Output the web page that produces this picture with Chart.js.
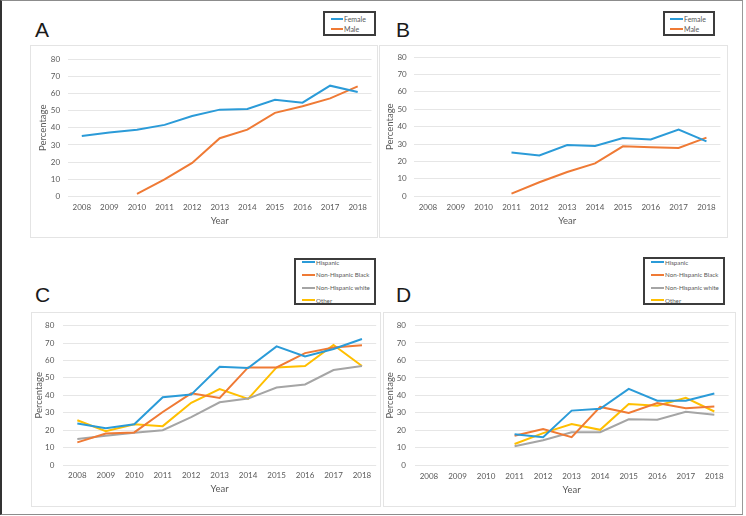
<!DOCTYPE html>
<html>
<head>
<meta charset="utf-8">
<script src="https://cdn.jsdelivr.net/npm/chart.js@4.4.1/dist/chart.umd.min.js"></script>
<style>
body{margin:0;background:#fff;width:746px;height:516px;position:relative;overflow:hidden;font-family:Lato,sans-serif}
.abs{position:absolute}
#frame{left:0;top:0;width:743px;height:515px;box-sizing:border-box;border-top:1px solid #8c8c8c;border-left:2px solid #333;border-right:1px solid #999;border-bottom:1px solid #8c8c8c}
.box{box-sizing:border-box;border:1px solid #e4e4e4}
.letter{font-family:"Liberation Sans",Arial,sans-serif;font-size:21px;line-height:21px;color:#1a1a1a}
.legend{box-sizing:border-box;border:2px solid #3c3c3c;background:#fff}
.item{position:absolute;height:8px;display:flex;align-items:center;color:#595959;white-space:nowrap}
.item i{display:inline-block;height:2px;margin-right:1px}
</style>
</head>
<body>
<div id="frame" class="abs"></div>
<script>
// values (percent)
const years = ['2008','2009','2010','2011','2012','2013','2014','2015','2016','2017','2018'];

const femaleA = [35.2, 37.2, 38.9, 41.7, 46.9, 50.6, 51.0, 56.4, 54.7, 64.6, 60.9];
const maleA   = [null, null, 1.4, 9.9, 19.5, 33.9, 38.9, 48.7, 52.6, 57.2, 64.2];

const femaleB = [null, null, null, 25.2, 23.5, 29.5, 28.9, 33.5, 32.7, 38.4, 31.6];
const maleB   = [null, null, null, 1.5, 8.1, 14.0, 18.9, 28.7, 28.2, 27.8, 33.7];

const hispC  = [23.8, 21.1, 23.4, 38.9, 40.4, 56.4, 55.7, 68.1, 62.3, 66.6, 72.3];
const blackC = [13.0, 18.1, 18.7, 30.4, 41.1, 38.5, 56.0, 56.0, 64.2, 67.4, 68.7];
const whiteC = [14.9, 16.8, 18.5, 20.0, 27.5, 36.0, 38.1, 44.5, 46.2, 54.5, 56.8];
const otherC = [25.7, 19.4, 23.4, 22.3, 35.7, 43.6, 37.9, 56.0, 56.8, 68.9, 56.8];

const hispD  = [null, null, null, 17.7, 16.1, 31.3, 32.3, 43.7, 37.0, 37.0, 41.1];
const blackD = [null, null, null, 16.9, 20.8, 16.1, 33.4, 30.0, 35.6, 32.6, 33.6];
const whiteD = [null, null, null, 10.9, 14.3, 18.9, 18.9, 26.3, 26.1, 30.6, 28.9];
const otherD = [null, null, null, 12.2, 18.4, 23.6, 20.3, 35.1, 34.1, 38.6, 30.8];

const sexNames  = ['Female', 'Male'];
const raceNames = ['Hispanic', 'Non-Hispanic Black', 'Non-Hispanic white', 'Other'];
const yTitle = 'Percentage';
const xTitle = 'Year';

const colors = ['#2b9bd8', '#ef7a35', '#a5a5a5', '#ffbf00'];
const tickColor = '#595959';

const panels = [
  {letter:'A', names:sexNames, data:[femaleA, maleA],
   box:[30,45,348,193], letterPos:[35,19], yw:38, right:6.5, top:14.3, xh:41.7, padY:7.9, tLeft:7.3, tBottom:11.6,
   legend:{x:323,y:11,w:53,h:25, lineX:331, lineW:12, fs:7, items:[19,28.7]}},
  {letter:'B', names:sexNames, data:[femaleB, maleB],
   box:[379,45,349,193], letterPos:[396,19], yw:35, right:7.6, top:10.3, xh:41.7, padY:7.3, tLeft:5.7, tBottom:11.6,
   legend:{x:663,y:11,w:52,h:25, lineX:670, lineW:13, fs:7, items:[19,28.7]}},
  {letter:'C', names:raceNames, data:[hispC, blackC, whiteC, otherC],
   box:[31,312,350,195], letterPos:[35,284], yw:32.1, right:4.8, top:11, xh:42, padY:8.8, tLeft:2.6, tBottom:12.3,
   legend:{x:294,y:258,w:82,h:47, lineX:302, lineW:13, fs:6.2, items:[262.3,274.7,287.7,300.3]}},
  {letter:'D', names:raceNames, data:[hispD, blackD, whiteD, otherD],
   box:[383,312,353,195], letterPos:[396,284], yw:31.7, right:7.4, top:11.7, xh:41.7, padY:8.7, tLeft:1.7, tBottom:11.3,
   legend:{x:643,y:257,w:82,h:48, lineX:651, lineW:13, fs:6.2, items:[262.3,274.7,287.7,300.3]}}
];

function el(cls, x, y, w, h){
  const d = document.createElement('div');
  d.className = 'abs ' + cls;
  d.style.left = x + 'px'; d.style.top = y + 'px';
  if (w != null) d.style.width = w + 'px';
  if (h != null) d.style.height = h + 'px';
  document.body.appendChild(d);
  return d;
}

function makeChart(p){
  const [bx, by, bw, bh] = p.box;
  el('box', bx, by, bw, bh);
  const cv = document.createElement('canvas');
  cv.width = bw; cv.height = bh;
  cv.className = 'abs';
  cv.style.left = bx + 'px'; cv.style.top = by + 'px';
  document.body.appendChild(cv);

  return new Chart(cv, {
    type:'line',
    data:{
      labels:years,
      datasets:p.data.map((d,i)=>({
        label:p.names[i], data:d,
        borderColor:colors[i], backgroundColor:colors[i],
        borderWidth:2, pointRadius:0, tension:0, fill:false
      }))
    },
    options:{
      responsive:false, animation:false,
      layout:{padding:{left:0, right:p.right, top:p.top, bottom:0}},
      plugins:{legend:{display:false}, tooltip:{enabled:false}},
      scales:{
        x:{
          offset:true,
          grid:{display:false, drawTicks:false}, border:{display:false},
          ticks:{color:tickColor, font:{family:'Lato', size:8}, padding:6, maxRotation:0, autoSkip:false},
          title:{display:true, text:xTitle, color:tickColor, font:{family:'Lato', size:9.5}, padding:{top:0, bottom:p.tBottom}},
          afterFit:s=>{ s.height = p.xh; }
        },
        y:{
          min:0, max:80,
          grid:{color:'#e6e6e6', drawTicks:false}, border:{display:false},
          ticks:{stepSize:10, color:tickColor, font:{family:'Lato', size:8}, padding:p.padY},
          title:{display:true, text:yTitle, color:tickColor, font:{family:'Lato', size:9.5}, padding:{top:p.tLeft, bottom:0}},
          afterFit:s=>{ s.width = p.yw; }
        }
      }
    }
  });
}

panels.forEach(p=>{
  makeChart(p);
  const L = el('letter', p.letterPos[0], p.letterPos[1]);
  L.textContent = p.letter;

  const g = p.legend;
  const box = el('legend', g.x, g.y, g.w, g.h);
  g.items.forEach((iy,i)=>{
    const it = document.createElement('div');
    it.className = 'item';
    it.style.fontSize = g.fs + 'px';
    it.style.left = (g.lineX - g.x - 2) + 'px';
    it.style.top = (iy - g.y - 2 - 4) + 'px';
    const ln = document.createElement('i');
    ln.style.width = g.lineW + 'px';
    ln.style.background = colors[i];
    it.appendChild(ln);
    it.appendChild(document.createTextNode(p.names[i]));
    box.appendChild(it);
  });
});
</script>
</body>
</html>
